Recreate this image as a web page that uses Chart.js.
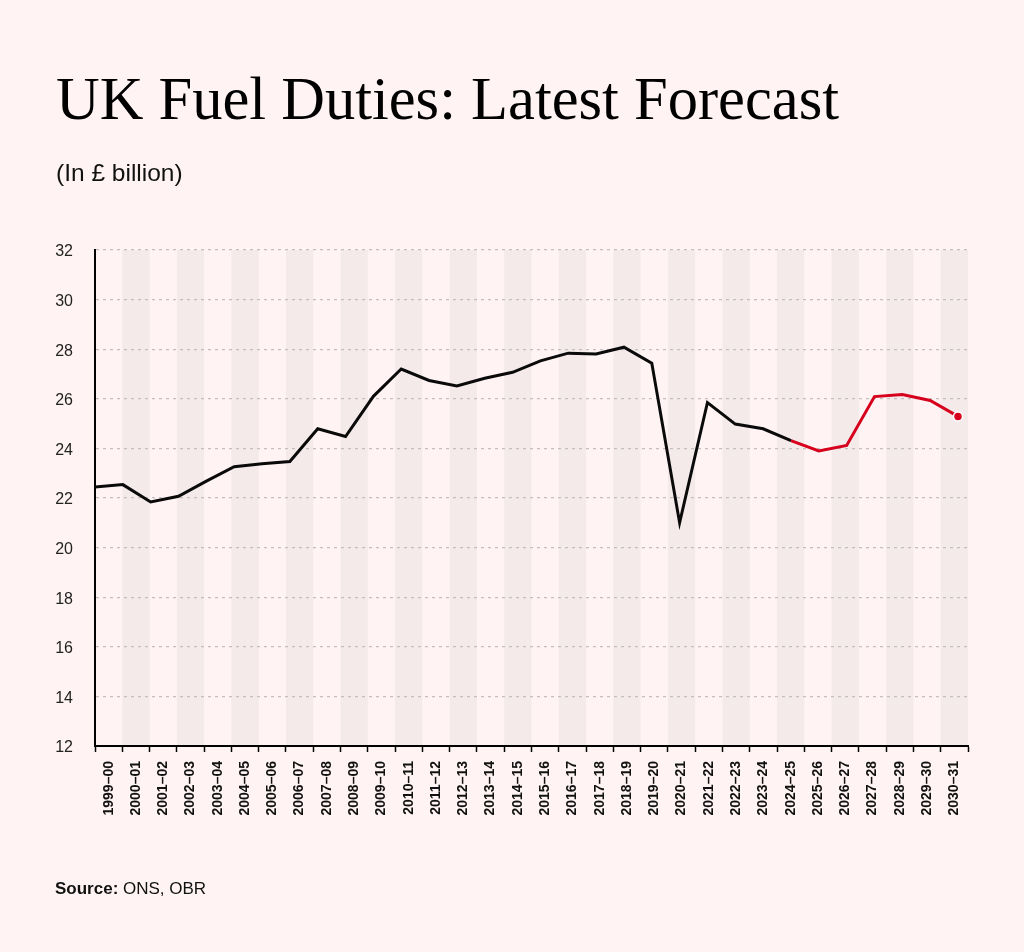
<!DOCTYPE html>
<html>
<head>
<meta charset="utf-8">
<script src="https://cdn.jsdelivr.net/npm/chart.js@4.4.1/dist/chart.umd.min.js"></script>
<style>
  html, body { margin: 0; padding: 0; background: #fff4f3; }
  body { width: 1024px; height: 952px; position: relative; overflow: hidden; }
  #c { position: absolute; left: 0; top: 0; }
  .t { position: absolute; white-space: nowrap; color: #000; line-height: 1; }
  #title { left: 56px; top: 69px; font-family: "Liberation Serif", "Times New Roman", serif; font-size: 60.5px; }
  #sub { left: 56px; top: 161px; font-family: "Liberation Sans", Arial, sans-serif; font-size: 24.5px; color: #111; }
  #src { left: 55px; top: 880px; font-family: "Liberation Sans", Arial, sans-serif; font-size: 17px; color: #111; }
</style>
</head>
<body>
<canvas id="c" width="1024" height="952"></canvas>
<div class="t" id="title">UK Fuel Duties: Latest Forecast</div>
<div class="t" id="sub">(In £ billion)</div>
<div class="t" id="src"><b>Source:</b> ONS, OBR</div>
<script>
// ---- data ----
const categories = ["1999–00","2000–01","2001–02","2002–03","2003–04","2004–05","2005–06","2006–07","2007–08","2008–09","2009–10","2010–11","2011–12","2012–13","2013–14","2014–15","2015–16","2016–17","2017–18","2018–19","2019–20","2020–21","2021–22","2022–23","2023–24","2024–25","2025–26","2026–27","2027–28","2028–29","2029–30","2030–31"];
const outturn = [22.44,22.54,21.84,22.07,22.68,23.26,23.38,23.47,24.79,24.48,26.10,27.20,26.74,26.52,26.83,27.07,27.53,27.84,27.81,28.08,27.44,21.00,25.85,24.98,24.79,24.31,null,null,null,null,null,null];
const forecast = [null,null,null,null,null,null,null,null,null,null,null,null,null,null,null,null,null,null,null,null,null,null,null,null,null,24.31,23.90,24.12,26.09,26.17,25.93,25.29];
const yTicks = [12,14,16,18,20,22,24,26,28,30,32];

const toPoints = arr => arr.map((v, i) => (v === null ? null : { x: i, y: v })).filter(p => p);
const lastForecast = toPoints(forecast).length - 1;

const bandPlugin = {
  id: 'bands',
  beforeDraw(chart) {
    const { ctx, chartArea, scales } = chart;
    const xs = scales.x;
    const w = (chartArea.right - chartArea.left) / categories.length;
    ctx.save();
    ctx.fillStyle = '#f5eaea';
    for (let i = 1; i < categories.length; i += 2) {
      const cx = xs.getPixelForValue(i);
      ctx.fillRect(cx - w / 2, chartArea.top, w, chartArea.bottom - chartArea.top);
    }
    ctx.restore();
  }
};

new Chart(document.getElementById('c'), {
  type: 'line',
  data: {
    labels: categories,
    datasets: [
      {
        data: toPoints(outturn),
        xAxisID: 'xl',
        borderColor: '#0a0a0a',
        borderWidth: 3,
        pointRadius: 0,
        tension: 0,
        fill: false
      },
      {
        data: toPoints(forecast),
        xAxisID: 'xl',
        borderColor: '#d6001c',
        backgroundColor: '#d6001c',
        borderWidth: 3,
        pointRadius: c => (c.dataIndex === lastForecast ? 4.5 : 0),
        pointBorderColor: '#ffffff',
        pointBorderWidth: 1.5,
        pointBackgroundColor: '#d6001c',
        tension: 0,
        fill: false
      }
    ]
  },
  options: {
    responsive: false,
    animation: false,
    devicePixelRatio: 1,
    layout: { padding: { top: 250, right: 56, bottom: 106, left: 0 } },
    plugins: { legend: { display: false }, tooltip: { enabled: false }, title: { display: false } },
    scales: {
      x: {
        type: 'category',
        labels: categories,
        offset: true,
        afterFit: s => { s.height = 100; },
        grid: { drawOnChartArea: false, drawTicks: true, tickLength: 6, tickColor: '#000', tickWidth: 1.5, offset: true },
        border: { display: true, color: '#000', width: 2 },
        ticks: {
          autoSkip: false, maxRotation: 90, minRotation: 90, padding: 9,
          color: '#111', font: { family: '"Liberation Sans", Arial, sans-serif', size: 14, weight: 'bold' }
        }
      },
      xl: {
        type: 'linear',
        display: false,
        min: 0,
        max: (categories.length - 1) * 873 / 863,
        grid: { display: false }
      },
      y: {
        min: yTicks[0],
        max: yTicks[yTicks.length - 1],
        afterFit: s => { s.width = 95; },
        afterBuildTicks: s => { s.ticks = yTicks.map(v => ({ value: v })); },
        grid: { color: '#c4bfbf', lineWidth: 1.2, drawTicks: false },
        border: { display: true, color: '#000', width: 2, dash: [3, 4] },
        ticks: {
          padding: 22, color: '#222', labelOffset: 2,
          font: { family: '"Liberation Sans", Arial, sans-serif', size: 16 }
        }
      }
    }
  },
  plugins: [bandPlugin]
});
</script>
</body>
</html>
